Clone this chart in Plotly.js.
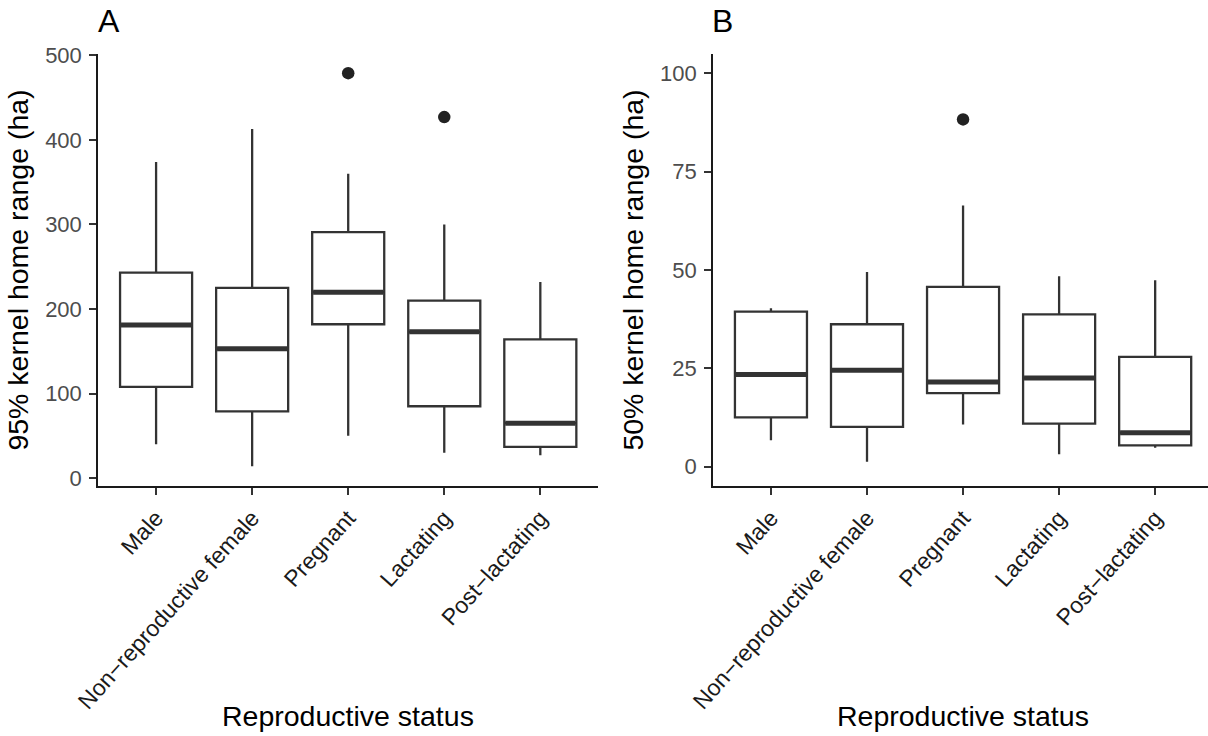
<!DOCTYPE html>
<html>
<head>
<meta charset="utf-8">
<script src="https://cdn.plot.ly/plotly-3.0.1.min.js"></script>
<style>html,body{margin:0;padding:0;background:#fff;}#chart{width:1208px;height:736px;}</style>
</head>
<body>
<div id="chart"></div>
<script>
// ---- data ----
const categories = ['Male', 'Non\u2212reproductive female', 'Pregnant', 'Lactating', 'Post\u2212lactating'];

// Panel A: 95% kernel home range (ha)
const aLower  = [40, 14, 50, 30, 27];
const aQ1     = [108, 79, 182, 85, 37];
const aMedian = [181, 153, 220, 173, 65];
const aQ3     = [243, 225, 291, 210, 164];
const aUpper  = [374, 413, 360, 300, 232];
const aOutCat = ['Pregnant', 'Lactating'];
const aOutVal = [479, 427];

// Panel B: 50% kernel home range (ha)
const bLower  = [6.7, 1.2, 10.7, 3.1, 4.8];
const bQ1     = [12.5, 10.1, 18.7, 10.9, 5.4];
const bMedian = [23.4, 24.5, 21.5, 22.5, 8.6];
const bQ3     = [39.4, 36.2, 45.7, 38.7, 27.9];
const bUpper  = [40.3, 49.5, 66.4, 48.4, 47.4];
const bOutCat = ['Pregnant'];
const bOutVal = [88.3];

const aTicks = [0, 100, 200, 300, 400, 500];
const bTicks = [0, 25, 50, 75, 100];

// ---- build ----
const pos = categories.map((c, i) => i + 1);
const BOXW = 0.75;
const lineCol = '#333333';

function boxTrace(lo, q1, med, q3, up, xa, ya) {
  return {
    type: 'box', x: pos, q1: q1, median: med, q3: q3,
    lowerfence: lo, upperfence: up,
    width: BOXW, whiskerwidth: 0, boxpoints: false,
    fillcolor: '#ffffff', line: {color: lineCol, width: 2.3},
    xaxis: xa, yaxis: ya, showlegend: false, hoverinfo: 'skip'
  };
}
function medianTrace(med, xa, ya) {
  const xs = [], ys = [];
  med.forEach((m, i) => { xs.push(pos[i] - BOXW / 2 + 0.01, pos[i] + BOXW / 2 - 0.01, null); ys.push(m, m, null); });
  return {type: 'scatter', mode: 'lines', x: xs, y: ys, line: {color: lineCol, width: 5},
          xaxis: xa, yaxis: ya, showlegend: false, hoverinfo: 'skip'};
}
function outTrace(cats, vals, xa, ya) {
  return {type: 'scatter', mode: 'markers', x: cats.map(c => categories.indexOf(c) + 1), y: vals,
          marker: {color: '#222222', size: 12.5}, xaxis: xa, yaxis: ya, showlegend: false, hoverinfo: 'skip'};
}

const data = [
  boxTrace(aLower, aQ1, aMedian, aQ3, aUpper, 'x', 'y'),
  medianTrace(aMedian, 'x', 'y'),
  outTrace(aOutCat, aOutVal, 'x', 'y'),
  boxTrace(bLower, bQ1, bMedian, bQ3, bUpper, 'x2', 'y2'),
  medianTrace(bMedian, 'x2', 'y2'),
  outTrace(bOutCat, bOutVal, 'x2', 'y2')
];

const FONT = 'Liberation Sans, Arial, sans-serif';
function xAxis(domain, range, anchor) {
  return {
    domain: domain, range: range, anchor: anchor,
    tickmode: 'array', tickvals: pos, ticktext: categories, tickangle: -48,
    ticks: 'outside', ticklen: 7, tickwidth: 2, tickcolor: lineCol,
    tickfont: {family: FONT, size: 23, color: '#1a1a1a'},
    showline: true, linecolor: '#1a1a1a', linewidth: 2.2,
    showgrid: false, zeroline: false, automargin: false, fixedrange: true
  };
}
function yAxis(domain, range, ticks, anchor, title) {
  return {
    domain: domain, range: range, anchor: anchor,
    tickmode: 'array', tickvals: ticks,
    ticks: 'outside', ticklen: 7, tickwidth: 2, tickcolor: lineCol,
    tickfont: {family: FONT, size: 22, color: '#4D4D4D'},
    ticklabelstandoff: 3,
    showline: true, linecolor: '#1a1a1a', linewidth: 2.2,
    showgrid: false, zeroline: false, automargin: false, fixedrange: true,
    title: {text: title, font: {family: FONT, size: 28.5, color: '#000000'}, standoff: 8}
  };
}

const yDom = [0.3394, 0.9269];
const layout = {
  width: 1208, height: 736,
  margin: {l: 0, r: 0, t: 0, b: 0},
  paper_bgcolor: '#ffffff', plot_bgcolor: '#ffffff',
  font: {family: FONT},
  xaxis: xAxis([0.0815, 0.4950], [0.4, 5.6], 'y'),
  yaxis: yAxis(yDom, [-9.55, 501.9], aTicks, 'x', '95% kernel home range (ha)'),
  xaxis2: xAxis([0.5905, 1.0], [0.4, 5.55], 'y2'),
  yaxis2: yAxis(yDom, [-5, 105], bTicks, 'x2', '50% kernel home range (ha)'),
  annotations: [
    {text: 'Reproductive status', xref: 'paper', yref: 'paper', x: (0.0815 + 0.4950) / 2, y: 1 - 716 / 736,
     xanchor: 'center', yanchor: 'middle', showarrow: false, font: {family: FONT, size: 28.5, color: '#000'}},
    {text: 'Reproductive status', xref: 'paper', yref: 'paper', x: (0.5905 + 1.0036) / 2, y: 1 - 716 / 736,
     xanchor: 'center', yanchor: 'middle', showarrow: false, font: {family: FONT, size: 28.5, color: '#000'}},
    {text: 'A', xref: 'paper', yref: 'paper', x: 96 / 1208, y: 1 - 21 / 736,
     xanchor: 'left', yanchor: 'middle', showarrow: false, font: {family: FONT, size: 32, color: '#000'}},
    {text: 'B', xref: 'paper', yref: 'paper', x: 710 / 1208, y: 1 - 21 / 736,
     xanchor: 'left', yanchor: 'middle', showarrow: false, font: {family: FONT, size: 32, color: '#000'}}
  ]
};

Plotly.newPlot('chart', data, layout, {displayModeBar: false, staticPlot: true});
</script>
</body>
</html>
